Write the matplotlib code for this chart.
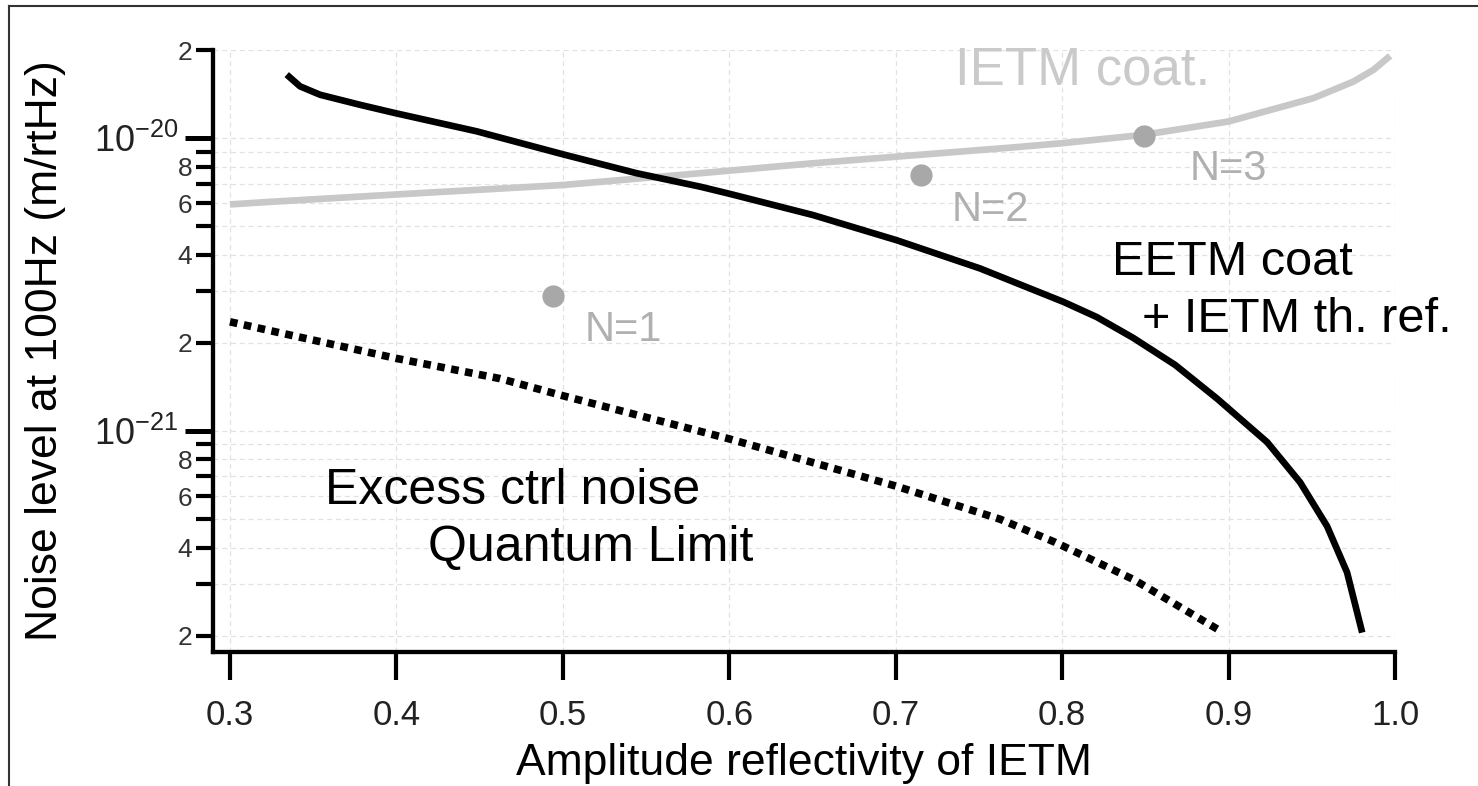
import numpy as np
import matplotlib
matplotlib.use("Agg")
import matplotlib.pyplot as plt
from matplotlib.ticker import FixedLocator, FuncFormatter
from matplotlib.lines import Line2D

plt.rcParams['font.family'] = ['Liberation Sans', 'DejaVu Sans']
plt.rcParams['mathtext.fontset'] = 'custom'
plt.rcParams['mathtext.rm'] = 'Liberation Sans'

# EETM coat + IETM th. ref. (black solid)
eetm_x = [0.3341, 0.3421, 0.3541, 0.3781, 0.3992, 0.4483, 0.5003, 0.5444, 0.5825,
          0.6005, 0.6505, 0.7007, 0.7507, 0.8008, 0.8208, 0.8427, 0.868, 0.8931,
          0.9232, 0.943, 0.9592, 0.9712, 0.9803]
eetm_y = [1.648e-20, 1.503e-20, 1.407e-20, 1.30e-20, 1.218e-20, 1.055e-20, 8.8e-21,
          7.59e-21, 6.83e-21, 6.45e-21, 5.46e-21, 4.48e-21, 3.59e-21, 2.76e-21,
          2.45e-21, 2.08e-21, 1.68e-21, 1.29e-21, 9.16e-22, 6.68e-22, 4.73e-22,
          3.29e-22, 2.05e-22]

# IETM coat. (grey)
ietm_x = [0.30, 0.324, 0.3992, 0.5003, 0.5825, 0.6505, 0.7007, 0.7707, 0.7998,
          0.8487, 0.90, 0.951, 0.975, 0.987, 0.9971]
ietm_y = [5.94e-21, 6.06e-21, 6.42e-21, 6.92e-21, 7.59e-21, 8.21e-21, 8.65e-21,
          9.3e-21, 9.61e-21, 1.026e-20, 1.14e-20, 1.37e-20, 1.56e-20, 1.71e-20,
          1.91e-20]

# Excess ctrl noise / Quantum Limit (dotted)
qlim_x = [0.30, 0.40, 0.4623, 0.50, 0.60, 0.70, 0.7627, 0.7958, 0.843, 0.8937]
qlim_y = [2.36e-21, 1.77e-21, 1.51e-21, 1.32e-21, 9.4e-22, 6.49e-22, 5.0e-22,
          4.17e-22, 3.11e-22, 2.10e-22]

# N points
n_x = [0.4941, 0.7153, 0.8493]
n_y = [2.90e-21, 7.47e-21, 1.02e-20]
n_labels = ["N=1", "N=2", "N=3"]
n_label_x = [0.5133, 0.7339, 0.8769]
n_label_y = [2.03e-21, 5.23e-21, 7.18e-21]

fig = plt.figure(figsize=(14.78, 7.86), dpi=100)
ax = fig.add_axes([213/1478, 1-652/786, (1395-213)/1478, (652-50)/786])

ax.set_yscale('log')
ax.set_xlim(0.2898, 1.0)
ax.set_ylim(1.76e-22, 2e-20)

ax.plot(ietm_x, ietm_y, color='#c8c8c8', lw=4.8, solid_capstyle='butt',
        solid_joinstyle='round', zorder=3)
ax.plot(eetm_x, eetm_y, color='black', lw=4.8, solid_capstyle='butt',
        solid_joinstyle='round', zorder=4)
ax.plot(qlim_x, qlim_y, color='black', lw=5.5, dashes=(1.0, 0.85),
        dash_capstyle='butt', zorder=4)
ax.plot(n_x, n_y, 'o', color='#a8a8a8', ms=16, mec='none', zorder=5)

for lx, ly, t in zip(n_label_x, n_label_y, n_labels):
    ax.text(lx, ly, t, fontsize=30, color='#b0b0b0', va='baseline', ha='left')

ax.text(0.7357, 1.52e-20, "IETM coat.", fontsize=38, color='#cacaca', va='baseline')
ax.text(0.830, 3.40e-21, "EETM coat", fontsize=35, color='black', va='baseline')
ax.text(0.848, 2.18e-21, "+ IETM th. ref.", fontsize=35, color='black', va='baseline')
ax.text(0.357, 5.62e-22, "Excess ctrl noise", fontsize=36, color='black', va='baseline')
ax.text(0.419, 3.59e-22, "Quantum Limit", fontsize=36, color='black', va='baseline')

# ticks
ax.set_xticks([0.3, 0.4, 0.5, 0.6, 0.7, 0.8, 0.9, 1.0])
ax.xaxis.set_major_formatter(FuncFormatter(lambda v, p: f"{v:.1f}"))

major_y = [1e-21, 1e-20]
minor_y = [m * 10.0**e for e in (-22, -21, -20) for m in range(2, 10)]
minor_y = [v for v in minor_y if 1.76e-22 <= v <= 2.01e-20 and v not in major_y]
ax.yaxis.set_major_locator(FixedLocator(major_y))
ax.yaxis.set_minor_locator(FixedLocator(minor_y))

def major_fmt(v, p):
    e = int(round(np.log10(v)))
    return r'$\mathregular{10^{%d}}$' % e

def minor_fmt(v, p):
    e = np.floor(np.log10(v) + 1e-9)
    m = int(round(v / 10**e))
    return str(m) if m in (2, 4, 6, 8) else ""

ax.yaxis.set_major_formatter(FuncFormatter(major_fmt))
ax.yaxis.set_minor_formatter(FuncFormatter(minor_fmt))

ax.tick_params(axis='x', which='major', direction='out', length=20, width=3,
               labelsize=25, pad=14, colors='black', labelcolor='#222222')
ax.tick_params(axis='y', which='major', direction='out', length=20, width=3.6,
               labelsize=26, pad=5, labelcolor='#222222')
ax.tick_params(axis='y', which='minor', direction='out', length=12, width=3,
               labelsize=19, pad=3, labelcolor='#333333')

for s in ['top', 'right']:
    ax.spines[s].set_visible(False)
for s in ['left', 'bottom']:
    ax.spines[s].set_linewidth(3.1)
    ax.spines[s].set_color('black')

ax.grid(which='both', axis='y', color='#e2e2e2', ls=(0, (4, 3)), lw=0.9, zorder=0)
ax.grid(which='major', axis='x', color='#e2e2e2', ls=(0, (4, 3)), lw=0.9, zorder=0)
ax.set_axisbelow(True)

ax.set_xlabel("Amplitude reflectivity of IETM", fontsize=32, labelpad=8)
ax.set_ylabel("Noise level at 100Hz (m/rtHz)", fontsize=32, labelpad=20)

# figure frame (top and left edges visible)
fig.add_artist(Line2D([9/1478, 1.0], [1-6/786, 1-6/786], transform=fig.transFigure,
                      color='#333333', lw=1.5))
fig.add_artist(Line2D([9/1478, 9/1478], [0, 1-6/786], transform=fig.transFigure,
                      color='#333333', lw=1.5))

fig.savefig("out.png", dpi=100)
